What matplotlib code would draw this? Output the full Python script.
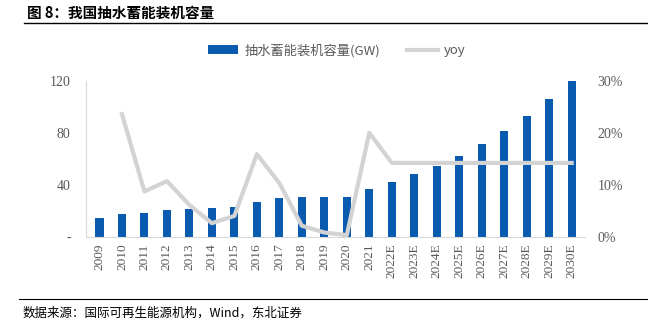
import matplotlib
matplotlib.use("Agg")
import matplotlib.pyplot as plt
import numpy as np

years = ["2009", "2010", "2011", "2012", "2013", "2014", "2015", "2016", "2017", "2018",
         "2019", "2020", "2021", "2022E", "2023E", "2024E", "2025E", "2026E", "2027E",
         "2028E", "2029E", "2030E"]
capacity = [14.1, 17.2, 18.5, 20.5, 21.5, 22.3, 23.1, 26.9, 29.5, 30.3,
            30.5, 30.8, 36.7, 41.8, 48.0, 54.6, 62.0, 71.0, 81.3, 92.6, 105.7, 120.5]
yoy = [np.nan, 23.6, 8.7, 10.7, 6.1, 2.6, 4.0, 15.9, 10.3, 2.1,
       0.8, 0.3, 20.0, 14.2, 14.2, 14.2, 14.2, 14.2, 14.2, 14.2, 14.2, 14.2]

cjk = ["Noto Sans CJK SC", "DejaVu Sans"]
serif = ["Liberation Serif", "Noto Sans CJK SC"]
blue = "#0A5AB0"
gray = "#D3D3D3"
tickc = "#595959"

fig = plt.figure(figsize=(6.48, 3.26), dpi=100)
ax = fig.add_axes([0.1327, 0.274, 0.903 - 0.1327, 0.478])
x = np.arange(len(years))
bars = ax.bar(x, capacity, width=0.36, color=blue, zorder=2)
ax.set_xlim(-0.6, len(years) - 0.4)
ax.set_ylim(0, 120)
ax.set_yticks([0, 40, 80, 120])
ax.set_yticklabels(["-", "40", "80", "120"], family=serif, fontsize=10, color=tickc)
ax.set_xticks(x)
ax.set_xticklabels(years, rotation=90, family=serif, fontsize=9.6, color=tickc)
ax.tick_params(axis="x", length=0, pad=5)
ax.tick_params(axis="y", length=0, pad=11)
for s in ["top", "right"]:
    ax.spines[s].set_visible(False)
ax.spines["left"].set_color("#D9D9D9")
ax.spines["bottom"].set_color("#D9D9D9")

ax2 = ax.twinx()
line, = ax2.plot(x, yoy, color=gray, linewidth=3, zorder=3)
ax2.set_ylim(0, 30)
ax2.set_yticks([0, 10, 20, 30])
ax2.set_yticklabels(["0%", "10%", "20%", "30%"], family=serif, fontsize=10, color=tickc)
ax2.tick_params(axis="y", length=0, pad=9)
for s in ["top", "right", "left", "bottom"]:
    ax2.spines[s].set_visible(False)

leg = fig.legend([bars, line], ["抽水蓄能装机容量(GW)", "yoy"], loc="center",
                 bbox_to_anchor=(0.52, 0.845), ncol=2, frameon=False,
                 prop={"family": ["Noto Sans CJK SC"], "size": 9.5},
                 handlelength=2.3, columnspacing=2.0, handletextpad=0.5)
for t in leg.get_texts():
    t.set_color(tickc)

fig.text(0.041, 0.962, "图 8：我国抽水蓄能装机容量", family=cjk, fontsize=10.5,
         fontweight="bold", va="center", ha="left")
fig.add_artist(plt.Line2D([0.037, 1.0], [0.929, 0.929], color="black", linewidth=1))
fig.add_artist(plt.Line2D([0.03, 1.0], [0.083, 0.083], color="black", linewidth=0.8))
fig.text(0.034, 0.04, "数据来源：国际可再生能源机构，Wind，东北证券", family=cjk,
         fontsize=9, va="center", ha="left")

fig.savefig("out.png", dpi=100)
